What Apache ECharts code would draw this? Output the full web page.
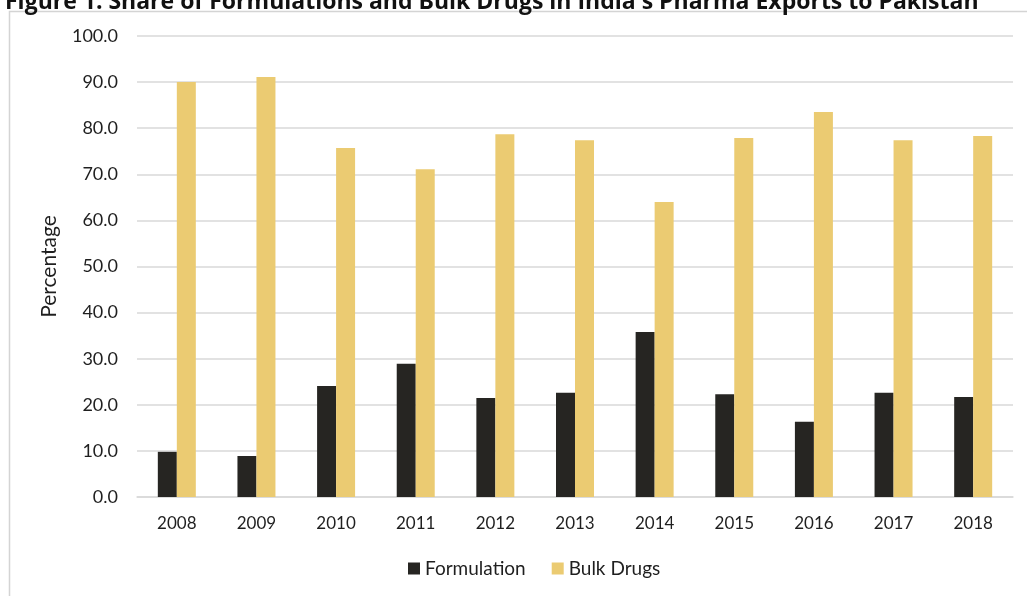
<!DOCTYPE html>
<html>
<head>
<meta charset="utf-8">
<script src="https://cdn.jsdelivr.net/npm/echarts@6/dist/echarts.min.js"></script>
<style>
  html, body { margin: 0; padding: 0; background: #fff; }
  #chart { width: 1027px; height: 596px; }
</style>
</head>
<body>
<div id="chart"></div>
<script>
const years = ["2008", "2009", "2010", "2011", "2012", "2013", "2014", "2015", "2016", "2017", "2018"];
// share of exports, %
const formulation = [9.8, 8.9, 24.1, 28.9, 21.5, 22.6, 35.8, 22.3, 16.3, 22.6, 21.7];
const bulkDrugs = [90.0, 91.1, 75.7, 71.1, 78.7, 77.4, 64.0, 77.9, 83.5, 77.4, 78.3];

const FONT = "Lato, 'Open Sans', sans-serif";
const TEXT = "#1f1f1f";

const chart = echarts.init(document.getElementById("chart"));
chart.setOption({
  animation: false,
  backgroundColor: "#fff",
  textStyle: { fontFamily: FONT },
  title: {
    text: "Figure 1: Share of Formulations and Bulk Drugs in India's Pharma Exports to Pakistan",
    left: 0,
    top: -14,
    textStyle: { fontFamily: "'Open Sans', sans-serif", fontSize: 23, fontWeight: "bold", color: "#111" },
  },
  graphic: [
    {
      type: "rect",
      silent: true,
      z: -1,
      shape: { x: 9.5, y: 11.5, width: 1030, height: 590 },
      style: { fill: "none", stroke: "#d4d4d4", lineWidth: 1.5 },
    },
  ],
  grid: { left: 137, right: 14, top: 36, bottom: 99 },
  legend: {
    bottom: 13,
    left: 403,
    itemWidth: 12,
    itemHeight: 12,
    itemGap: 26,
    icon: "rect",
    textStyle: { fontFamily: FONT, fontSize: 19, color: TEXT },
    data: ["Formulation", "Bulk Drugs"],
  },
  xAxis: {
    type: "category",
    data: years,
    axisTick: { show: false },
    axisLine: { lineStyle: { color: "#d9d9d9", width: 1.5 } },
    axisLabel: { fontSize: 17, color: TEXT, margin: 18 },
  },
  yAxis: {
    type: "value",
    min: 0,
    max: 100,
    interval: 10,
    name: "Percentage",
    nameLocation: "middle",
    nameGap: 77,
    nameTextStyle: { fontSize: 21, color: TEXT },
    axisLabel: { fontSize: 18, color: TEXT, margin: 19, formatter: (v) => v.toFixed(1) },
    axisLine: { show: false },
    splitLine: { lineStyle: { color: "#d9d9d9", width: 1.5 } },
  },
  series: [
    {
      name: "Formulation",
      type: "bar",
      data: formulation,
      barWidth: 19,
      barGap: "0%",
      itemStyle: { color: "#262522" },
    },
    {
      name: "Bulk Drugs",
      type: "bar",
      data: bulkDrugs,
      barWidth: 19,
      barGap: "0%",
      itemStyle: { color: "#ebcb72" },
    },
  ],
});
</script>
</body>
</html>
